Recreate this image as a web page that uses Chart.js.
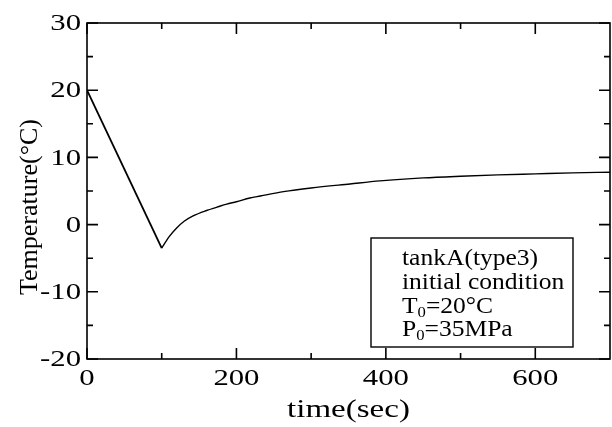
<!DOCTYPE html>
<html>
<head>
<meta charset="utf-8">
<script src="https://cdn.jsdelivr.net/npm/chart.js@4"></script>
<style>
  html, body { margin: 0; padding: 0; background: #fff; }
  #wrap { width: 612px; height: 427px; position: relative; }
</style>
</head>
<body>
<div id="wrap"><canvas id="tempChart"></canvas></div>
<script>
// cooling leg (fill start -> end of filling)
const coolTime = [0, 100];
const coolTemp = [20, -3.5];

// recovery after filling stops
const recTime = [100, 110, 120, 130, 142, 160, 174, 187, 200, 218, 232, 263, 300, 352, 392, 450, 500, 550, 600, 650, 700];
const recTemp = [-3.5, -1.8, -0.5, 0.5, 1.3, 2.1, 2.6, 3.05, 3.4, 3.95, 4.25, 4.9, 5.45, 6.05, 6.5, 6.95, 7.2, 7.4, 7.55, 7.7, 7.8];

const xMajor = [0, 200, 400, 600];
const xMinor = [100, 300, 500];
const yMajor = [-20, -10, 0, 10, 20, 30];
const yMinor = [-15, -5, 5, 15, 25];

const xTitle = 'time(sec)';
const yTitle = 'Temperature(°C)';
const noteLines = ['tankA(type3)', 'initial condition'];

const SERIF = '"Liberation Serif", "Times New Roman", serif';

const toPts = (xs, ys) => xs.map((x, i) => ({ x: x, y: ys[i] }));

// text with a bit of horizontal stretch, like the original export
const txt = (ctx, s, x, y, align, sx) => {
  ctx.save();
  ctx.translate(x, y);
  ctx.scale(sx, 1);
  ctx.textAlign = align;
  ctx.fillText(s, 0, 0);
  ctx.restore();
};

const framePlugin = {
  id: 'frame',
  afterDraw(chart) {
    const { ctx, chartArea: a, scales } = chart;
    const xs = scales.x, ys = scales.y;
    ctx.save();
    ctx.strokeStyle = '#000';
    ctx.fillStyle = '#000';
    ctx.lineWidth = 1.6;
    ctx.strokeRect(a.left, a.top, a.right - a.left, a.bottom - a.top);

    // inward ticks on all four sides
    const tick = (vals, len) => {
      vals.forEach(v => {
        const px = xs.getPixelForValue(v);
        ctx.beginPath();
        ctx.moveTo(px, a.bottom); ctx.lineTo(px, a.bottom - len);
        ctx.moveTo(px, a.top); ctx.lineTo(px, a.top + len);
        ctx.stroke();
      });
    };
    const tickY = (vals, len) => {
      vals.forEach(v => {
        const py = ys.getPixelForValue(v);
        ctx.beginPath();
        ctx.moveTo(a.left, py); ctx.lineTo(a.left + len, py);
        ctx.moveTo(a.right, py); ctx.lineTo(a.right - len, py);
        ctx.stroke();
      });
    };
    tick(xMajor, 11);
    tick(xMinor, 6);
    tickY(yMajor, 11);
    tickY(yMinor, 6);

    // tick labels
    ctx.font = '24px ' + SERIF;
    ctx.textBaseline = 'middle';
    yMajor.forEach(v => txt(ctx, String(v), a.left - 6, ys.getPixelForValue(v) + 1, 'right', 1.28));
    ctx.textBaseline = 'alphabetic';
    xMajor.forEach(v => txt(ctx, String(v), xs.getPixelForValue(v), a.bottom + 26, 'center', 1.28));

    // axis titles
    ctx.font = '26px ' + SERIF;
    txt(ctx, xTitle, (a.left + a.right) / 2, 417, 'center', 1.27);
    ctx.save();
    ctx.translate(37, 207);
    ctx.rotate(-Math.PI / 2);
    ctx.textAlign = 'center';
    ctx.fillText(yTitle, 0, 0);
    ctx.restore();

    // condition box
    ctx.fillStyle = '#fff';
    ctx.fillRect(371, 238, 202, 109);
    ctx.lineWidth = 1.4;
    ctx.strokeRect(371, 238, 202, 109);
    ctx.fillStyle = '#000';
    ctx.font = '23px ' + SERIF;
    const lx = 402, sx = 1.11;
    txt(ctx, noteLines[0], lx, 265, 'left', sx);
    txt(ctx, noteLines[1], lx, 289, 'left', sx);
    // T0 = 20°C, P0 = 35MPa with subscript 0
    const sub = (main, rest, y) => {
      ctx.font = '23px ' + SERIF;
      const w1 = ctx.measureText(main).width * sx;
      txt(ctx, main, lx, y, 'left', sx);
      ctx.font = '15px ' + SERIF;
      const w2 = ctx.measureText('0').width * sx;
      txt(ctx, '0', lx + w1, y + 4, 'left', sx);
      ctx.font = '23px ' + SERIF;
      txt(ctx, rest, lx + w1 + w2, y, 'left', sx);
    };
    sub('T', '=20°C', 313);
    sub('P', '=35MPa', 336);
    ctx.restore();
  }
};

new Chart(document.getElementById('tempChart'), {
  type: 'scatter',
  data: {
    datasets: [
      {
        label: 'cooling',
        data: toPts(coolTime, coolTemp),
        showLine: true,
        borderColor: '#000',
        borderWidth: 1.8,
        pointRadius: 0
      },
      {
        label: 'recovery',
        data: toPts(recTime, recTemp),
        showLine: true,
        borderColor: '#000',
        borderWidth: 1.4,
        pointRadius: 0,
        cubicInterpolationMode: 'monotone'
      }
    ]
  },
  options: {
    responsive: true,
    maintainAspectRatio: false,
    animation: false,
    layout: { padding: { left: 0, right: 2, top: 23, bottom: 0 } },
    plugins: {
      legend: { display: false },
      tooltip: { enabled: false }
    },
    scales: {
      x: {
        type: 'linear',
        min: 0,
        max: 700,
        grid: { display: false },
        border: { display: false },
        ticks: { display: false },
        afterFit: s => { s.height = 68; }
      },
      y: {
        min: -20,
        max: 30,
        grid: { display: false },
        border: { display: false },
        ticks: { display: false },
        afterFit: s => { s.width = 87; }
      }
    }
  },
  plugins: [framePlugin]
});
</script>
</body>
</html>
